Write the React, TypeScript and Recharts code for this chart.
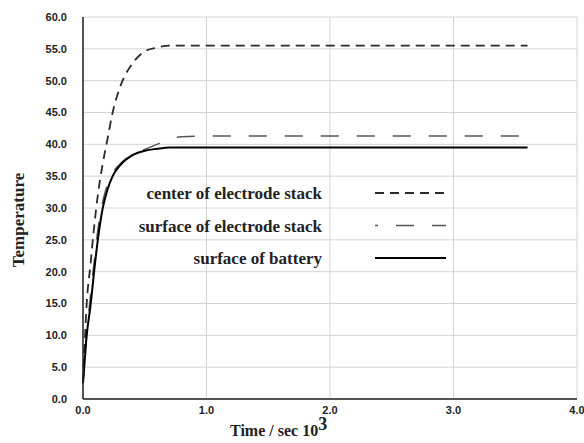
import { LineChart, Line, XAxis, YAxis, CartesianGrid } from 'recharts';

const time = [0, 0.01, 0.03, 0.06, 0.09, 0.12, 0.16, 0.2, 0.24, 0.3, 0.4, 0.5, 0.6, 0.7, 0.8, 1.0, 1.5, 2.0, 2.5, 3.0, 3.6];
const centerStack = [2.5, 7, 15, 21, 27, 32, 37, 41, 45, 49, 52.7, 54.6, 55.2, 55.5, 55.5, 55.5, 55.5, 55.5, 55.5, 55.5, 55.5];
const surfaceStack = [2.5, 5.5, 10.5, 16, 21.5, 26.5, 31, 33.8, 35.5, 36.9, 38.4, 39.2, 40.0, 40.8, 41.2, 41.3, 41.3, 41.3, 41.3, 41.3, 41.3];
const surfaceBattery = [2.5, 5, 10, 14.5, 20, 25, 30, 33, 35, 36.7, 38.3, 39.0, 39.3, 39.5, 39.5, 39.5, 39.5, 39.5, 39.5, 39.5, 39.5];

const xTicks = [0, 1, 2, 3, 4];
const yTicks = [0, 5, 10, 15, 20, 25, 30, 35, 40, 45, 50, 55, 60];

const legendItems = [
  { label: 'center of electrode stack', dash: '9 6', color: '#2a2a2a', width: 1.8 },
  { label: 'surface of electrode stack', dash: '3 18 18 18 18', color: '#555', width: 1.5 },
  { label: 'surface of battery', dash: undefined, color: '#000', width: 2 },
];

const data = time.map((t, i) => ({
  t,
  center: centerStack[i],
  surface: surfaceStack[i],
  battery: surfaceBattery[i],
}));

const serif = '"Liberation Serif", "Times New Roman", serif';
const tickStyle = { fontFamily: '"Liberation Sans", Arial, sans-serif', fontSize: 11, fontWeight: 700, fill: '#222' };

export default function App() {
  return (
    <div style={{ position: 'absolute', left: 0, top: 0, width: 584, height: 443, background: '#fff' }}>
      <LineChart width={584} height={443} data={data} margin={{ top: 17, right: 7, left: 0, bottom: 0 }}>
        <CartesianGrid stroke="#d4d4d4" strokeWidth={1} />
        <XAxis
          dataKey="t"
          type="number"
          domain={[0, 4]}
          ticks={xTicks}
          tickFormatter={(v: number) => v.toFixed(1)}
          height={44}
          tickSize={0}
          tickMargin={7}
          stroke="#222"
          strokeWidth={1.5}
          tick={tickStyle}
        />
        <YAxis
          type="number"
          domain={[0, 60]}
          ticks={yTicks}
          tickFormatter={(v: number) => v.toFixed(1)}
          width={83}
          tickSize={0}
          tickMargin={16}
          stroke="#222"
          strokeWidth={1.5}
          tick={tickStyle}
        />
        <Line type="monotone" dataKey="center" stroke="#2a2a2a" strokeWidth={1.8} strokeDasharray="9 6" dot={false} isAnimationActive={false} />
        <Line type="monotone" dataKey="surface" stroke="#555" strokeWidth={1.5} strokeDasharray="18 18" dot={false} isAnimationActive={false} />
        <Line type="monotone" dataKey="battery" stroke="#000" strokeWidth={2} dot={false} isAnimationActive={false} />
      </LineChart>
      <svg width={584} height={443} style={{ position: 'absolute', left: 0, top: 0, pointerEvents: 'none' }}>
        {legendItems.map((item, i) => (
          <g key={item.label}>
            <text x={322} y={199 + i * 32.5} textAnchor="end" fontFamily={serif} fontSize={17} fontWeight={700} fill="#222">
              {item.label}
            </text>
            <line x1={375} x2={446} y1={193 + i * 32.5} y2={193 + i * 32.5} stroke={item.color} strokeWidth={item.width} strokeDasharray={item.dash} />
          </g>
        ))}
        <text transform="translate(24,220) rotate(-90)" textAnchor="middle" fontFamily={serif} fontSize={17} fontWeight={700} fill="#222">
          Temperature
        </text>
        <text x={230} y={436} fontFamily={serif} fontSize={16} fontWeight={700} fill="#222">
          Time / sec 10<tspan dy={-6} fontSize={18}>3</tspan>
        </text>
      </svg>
    </div>
  );
}
